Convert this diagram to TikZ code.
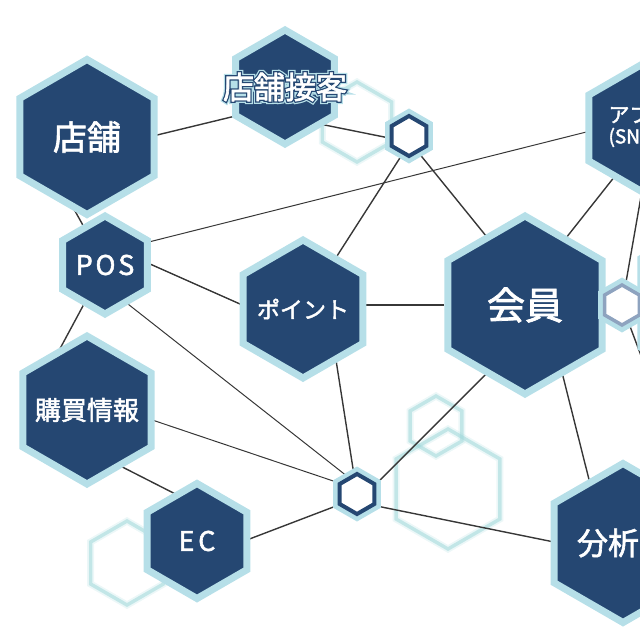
\documentclass[tikz,border=0pt]{standalone}
\usepackage{fontspec}
\newfontfamily\jpfont{Noto Sans CJK JP}[FakeBold=2]
\newfontfamily\jpglow{Noto Sans CJK JP}[FakeBold=18]
\newfontfamily\jpedge{Noto Sans CJK JP}[FakeBold=10]
\usetikzlibrary{shapes.geometric,calc,backgrounds}
\pgfdeclarelayer{deco}
\pgfsetlayers{deco,background,main}
\definecolor{hexnavy}{RGB}{37,71,114}
\definecolor{hexrim}{RGB}{182,223,232}
\definecolor{greyrim}{RGB}{142,163,191}
\definecolor{decoteal}{RGB}{160,216,218}
\definecolor{linegrey}{RGB}{55,55,55}
\newcommand\rimtext[1]{%
  \rlap{\color{hexrim}\jpglow #1}%
  \rlap{\color{hexnavy}\jpedge #1}%
  #1}
\newcommand\jp[1]{\jpfont\fontsize{#1}{#1}\selectfont}

\begin{document}
\begin{tikzpicture}[x=1pt,y=-1pt,
  hex/.style={regular polygon,regular polygon sides=6,shape border rotate=30,inner sep=0pt,fill=hexnavy,draw=hexrim,line width=7pt},
  hub/.style={regular polygon,regular polygon sides=6,shape border rotate=30,inner sep=0pt,minimum size=40pt,fill=white,draw=hexnavy,line width=4pt,preaction={draw=hexrim,line width=13pt}},
  ghost/.style={regular polygon,regular polygon sides=6,shape border rotate=30,inner sep=0pt,draw=decoteal,line width=3.5pt,draw opacity=.55,preaction={draw=decoteal,line width=7pt,draw opacity=.2}},
  lbl/.style={text=white,align=center,inner sep=0pt},
  link/.style={draw=linegrey,line width=1.4pt},
  thin/.style={draw=linegrey,line width=1pt}]
  \useasboundingbox (0,0) rectangle (640,640);
  \clip (0,0) rectangle (640,640);

  \node[hex,minimum size=155pt,label={[lbl,font=\jp{34}]center:店舗}] (tenpo) at (87,137) {};
  \node[hex,minimum size=114pt,label={[lbl,font=\jp{31}]center:\rimtext{店舗接客}}] (sekkyaku) at (285,87) {};
  \node[hex,minimum size=98pt,label={[lbl,font={\jp{27}\addfontfeature{LetterSpace=10}}]center:POS}] (pos) at (105,265) {};
  \node[hex,minimum size=138pt,label={[lbl,font=\jp{23}]center:ポイント}] (point) at (303,309) {};
  \node[hex,minimum size=148pt,label={[lbl,font=\jp{26}]center:購買情報}] (kobai) at (87,410) {};
  \node[hex,minimum size=115pt,label={[lbl,font={\jp{27}\addfontfeature{LetterSpace=14}}]center:EC}] (ec) at (197,541) {};
  \node[hex,minimum size=178pt,label={[lbl,font=\jp{38}]center:会員}] (kaiin) at (525,305) {};
  \node[hex,minimum size=132pt,label={[lbl,align=left,font=\jp{21},xshift=-6pt,yshift=2pt]center:アプリ\\{\fontsize{19}{19}\selectfont(SNS)}}] (app) at (646,128) {};
  \node[hex,minimum size=159pt,label={[lbl,font=\jp{31},xshift=-15pt]center:分析}] (bunseki) at (623,543) {};
  \node[hex,minimum size=178pt] (rimhex) at (718,303) {};
  \node[hub] (hubA) at (409,136) {};
  \node[hub] (hubB) at (357,494) {};
  \node[hub,draw=greyrim,line width=3.5pt,preaction={draw=none}] (grey) at (622,305) {};
  \coordinate (offedge) at (700,513);

  \begin{pgfonlayer}{deco}
    \node[ghost,minimum size=80pt] (ghostA) at (357,122) {};
    \node[ghost,minimum size=60pt] (ghostB) at (436,426) {};
    \node[ghost,minimum size=120pt] (ghostC) at (448,489) {};
    \node[ghost,minimum size=84pt] (ghostD) at (127,563) {};
  \end{pgfonlayer}

  \begin{pgfonlayer}{background}
    \draw[link] ($(tenpo)+(0,15)$) -- ($(sekkyaku)+(0,17)$);
    \draw[link] (pos) -- ($(tenpo)+(-53,0)$);
    \draw[link] ($(sekkyaku)+(0,30)$) -- ($(hubA)+(0,6)$);
    \draw[thin] ($(pos)+(0,-12)$) -- ($(app)+(0,-11)$);
    \draw[link] ($(pos)+(0,-21)$) -- ($(point)+(0,23)$);
    \draw[thin] ($(pos)+(0,21)$) -- ($(hubB)+(0,-10)$);
    \draw[link] (pos) -- ($(kobai)+(-60,0)$);
    \draw[link] ($(hubA)+(5,0)$) -- (point);
    \draw[link] ($(hubA)+(-4,0)$) -- ($(kaiin)+(17,0)$);
    \draw[link] ($(point)+(0,-4)$) -- (kaiin);
    \draw[link] ($(point)+(25,0)$) -- (hubB);
    \draw[thin] ($(kobai)+(0,-12)$) -- ($(hubB)+(0,-5)$);
    \draw[link] ($(kobai)+(0,39)$) -- ($(ec)+(0,-36)$);
    \draw[link] ($(ec)+(0,18)$) -- ($(hubB)+(0,4)$);
    \draw[link] ($(hubB)+(0,9)$) -- ($(kaiin)+(0,30)$);
    \draw[link] ($(hubB)+(0,8)$) -- ($(bunseki)+(0,13)$);
    \draw[link] ($(kaiin)+(20,0)$) -- ($(bunseki)+(-18,0)$);
    \draw[link] ($(app)+(7,0)$) -- ($(kaiin)+(-12,0)$);
    \draw[link] ($(app)+(7,0)$) -- (grey);
    \draw[link] (grey) -- (offedge);
  \end{pgfonlayer}
\end{tikzpicture}
\end{document}
